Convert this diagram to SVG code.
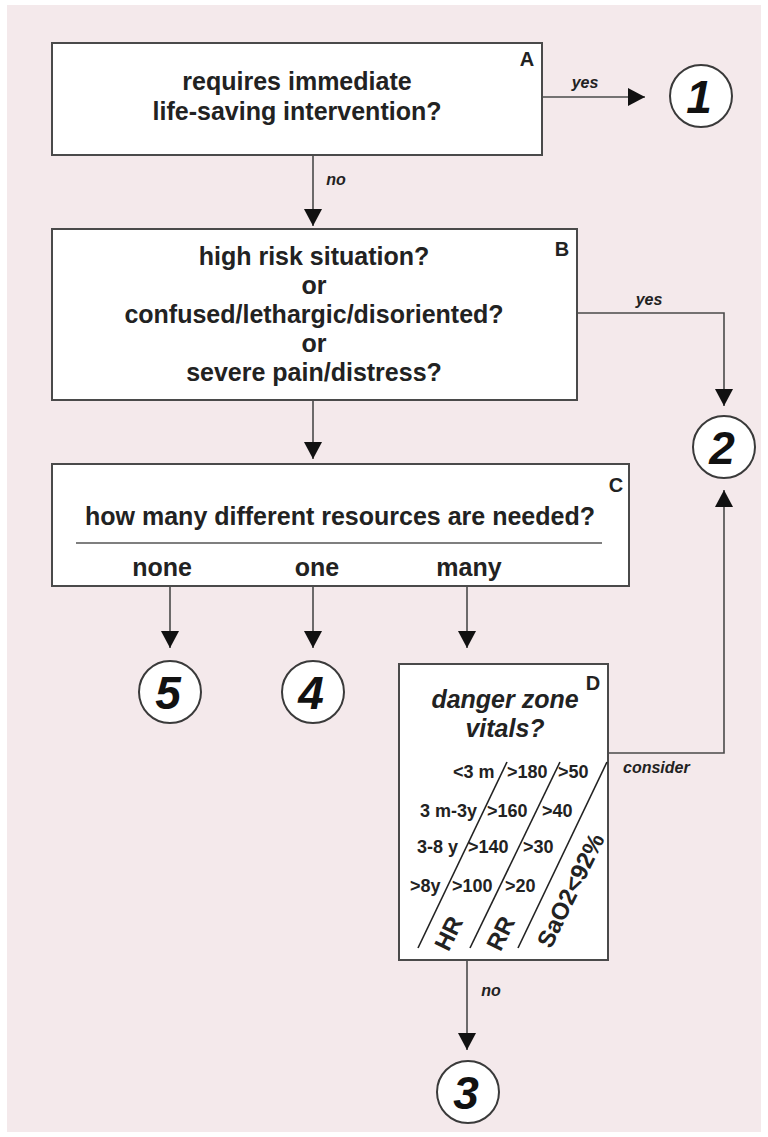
<svg xmlns="http://www.w3.org/2000/svg" width="768" height="1137" viewBox="0 0 768 1137">
<defs>
<style>
.box{fill:#fff;stroke:#4a4a4a;stroke-width:2}
.circ{fill:#fff;stroke:#3a3a3a;stroke-width:2}
.t{font-family:"Liberation Sans",Arial,sans-serif;font-weight:bold;fill:#222}
.q{font-size:25px;text-anchor:middle}
.lab{font-size:20px;text-anchor:middle}
.it{font-style:italic;font-size:16px}
.num{font-family:"Liberation Sans",Arial,sans-serif;font-weight:bold;font-style:italic;font-size:46px;fill:#111;text-anchor:middle}
.v{font-size:18px}
.conn line,.conn polyline{stroke:#4a4a4a;stroke-width:1.6;fill:none}
.diag{stroke:#222;stroke-width:1.6}
</style>
<marker id="ah" markerUnits="userSpaceOnUse" markerWidth="18" markerHeight="18" refX="17" refY="9" orient="auto">
<path d="M0,0 L17,9 L0,18 z" fill="#111"/>
</marker>
</defs>
<rect x="0" y="0" width="768" height="1137" fill="#fff"/>
<rect x="7" y="5" width="754" height="1127" fill="#f4e9eb"/>

<g id="connectors" class="conn">
<line x1="542" y1="97" x2="645" y2="97" marker-end="url(#ah)"/>
<line x1="313" y1="155" x2="313" y2="226" marker-end="url(#ah)"/>
<polyline points="577,313 724,313 724,406" marker-end="url(#ah)"/>
<line x1="313" y1="400" x2="313" y2="459" marker-end="url(#ah)"/>
<line x1="170" y1="586" x2="170" y2="648" marker-end="url(#ah)"/>
<line x1="313" y1="586" x2="313" y2="648" marker-end="url(#ah)"/>
<line x1="467" y1="586" x2="467" y2="648" marker-end="url(#ah)"/>
<polyline points="608,753 724,753 724,490" marker-end="url(#ah)"/>
<line x1="467" y1="960" x2="467" y2="1050" marker-end="url(#ah)"/>
<text class="t it" x="585" y="88" text-anchor="middle">yes</text>
<text class="t it" x="336" y="185" text-anchor="middle">no</text>
<text class="t it" x="649" y="305" text-anchor="middle">yes</text>
<text class="t it" x="623" y="773">consider</text>
<text class="t it" x="491" y="996" text-anchor="middle">no</text>
</g>

<g id="nodeA">
<rect class="box" x="52" y="43" width="490" height="112"/>
<text class="t lab" x="527" y="66">A</text>
<text class="t q" x="297" y="90">requires immediate</text>
<text class="t q" x="297" y="120">life-saving intervention?</text>
</g>

<g id="node1">
<circle class="circ" cx="701" cy="96" r="31"/>
<text class="num" x="699" y="113">1</text>
</g>

<g id="nodeB">
<rect class="box" x="52" y="229" width="525" height="171"/>
<text class="t lab" x="562" y="256">B</text>
<text class="t q" x="314" y="265">high risk situation?</text>
<text class="t q" x="314" y="294">or</text>
<text class="t q" x="314" y="323">confused/lethargic/disoriented?</text>
<text class="t q" x="314" y="352">or</text>
<text class="t q" x="314" y="381">severe pain/distress?</text>
</g>

<g id="node2">
<circle class="circ" cx="724" cy="447" r="31"/>
<text class="num" x="722" y="464">2</text>
</g>

<g id="nodeC">
<rect class="box" x="52" y="464" width="577" height="122"/>
<text class="t lab" x="616" y="492">C</text>
<text class="t q" x="340" y="525">how many different resources are needed?</text>
<line x1="76" y1="543" x2="602" y2="543" stroke="#555" stroke-width="1.4"/>
<text class="t q" x="162" y="576">none</text>
<text class="t q" x="317" y="576">one</text>
<text class="t q" x="469" y="576">many</text>
</g>

<g id="node5">
<circle class="circ" cx="170" cy="692" r="31"/>
<text class="num" x="168" y="709">5</text>
</g>

<g id="node4">
<circle class="circ" cx="313" cy="692" r="31"/>
<text class="num" x="311" y="709">4</text>
</g>

<g id="nodeD">
<rect class="box" x="399" y="664" width="209" height="296"/>
<text class="t lab" x="593" y="690">D</text>
<text class="t q" x="505" y="708" font-style="italic">danger zone</text>
<text class="t q" x="505" y="737" font-style="italic">vitals?</text>
<line class="diag" x1="507" y1="762" x2="418" y2="948"/>
<line class="diag" x1="560" y1="762" x2="470" y2="948"/>
<line class="diag" x1="607" y1="762" x2="518" y2="948"/>
<text class="t v" x="453" y="778">&lt;3 m</text>
<text class="t v" x="507" y="778">&gt;180</text>
<text class="t v" x="558" y="778">&gt;50</text>
<text class="t v" x="420" y="817">3 m-3y</text>
<text class="t v" x="487" y="817">&gt;160</text>
<text class="t v" x="542" y="817">&gt;40</text>
<text class="t v" x="417" y="853">3-8 y</text>
<text class="t v" x="468" y="853">&gt;140</text>
<text class="t v" x="523" y="853">&gt;30</text>
<text class="t v" x="410" y="892">&gt;8y</text>
<text class="t v" x="452" y="892">&gt;100</text>
<text class="t v" x="505" y="892">&gt;20</text>
<text class="t" font-size="24" text-anchor="middle" transform="translate(456,937) rotate(-64)">HR</text>
<text class="t" font-size="24" text-anchor="middle" transform="translate(508,937) rotate(-64)">RR</text>
<text class="t" font-size="24" text-anchor="middle" transform="translate(578,894) rotate(-64)">SaO2&lt;92%</text>
</g>

<g id="node3">
<circle class="circ" cx="468" cy="1092" r="31"/>
<text class="num" x="466" y="1109">3</text>
</g>
</svg>
